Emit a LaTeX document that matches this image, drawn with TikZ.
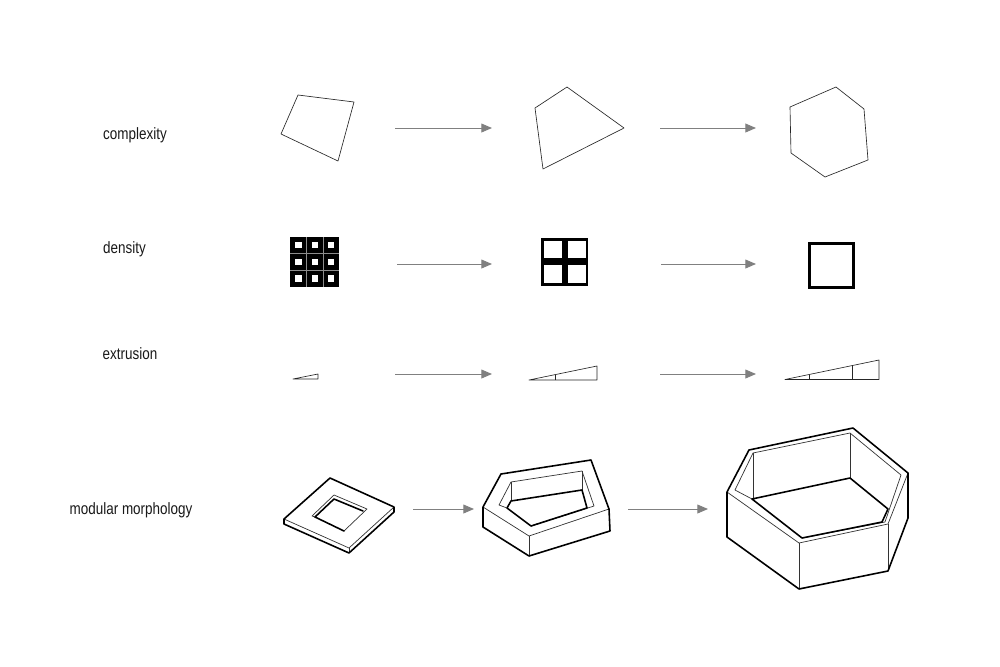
\documentclass[tikz,border=0pt]{standalone}
\usepackage{fontspec}
\setmainfont[FakeStretch=0.82]{Liberation Sans}
\usepackage{xcolor}
\usepackage{tikz}
\usetikzlibrary{arrows.meta}

\definecolor{arrowgrey}{HTML}{808080}

\begin{document}
\begin{tikzpicture}[
    x=0.03cm, y=-0.03cm,
    rowlabel/.style={font=\fontsize{14}{16}\selectfont, text=black!90, inner sep=0pt},
    flow/.style={draw=arrowgrey, line width=0.8pt, -{Triangle[length=9pt, width=7.5pt, fill=arrowgrey]}},
    plan/.style={draw=black!85, line width=0.55pt, line join=round},
    thin3d/.style={draw=black!80, line width=0.6pt, line join=round},
    thick3d/.style={draw=black, line width=1.35pt, line join=round, line cap=round}
]

\useasboundingbox[fill=white] (0,0) rectangle (1000,667);

\node[rowlabel] (complexity) at (135,135.5) {complexity};
\node[rowlabel] (density) at (124.5,249.5) {density};
\node[rowlabel] (extrusion) at (130,353.5) {extrusion};
\node[rowlabel] (morphology) at (131,510.5) {modular morphology};

% complexity
\draw[plan] (298,95) -- (354,102) -- (338,161) -- (281,134) -- cycle;
\draw[plan] (567,87) -- (624,128) -- (543,169) -- (535,108) -- cycle;
\draw[plan] (836,87) -- (864,109) -- (868,160) -- (825,177) -- (791,153) -- (790,107) -- cycle;

% density
\fill[black] (290,237) rectangle (339,287);
\foreach \i in {0,1,2}
  \foreach \j in {0,1,2}
    \fill[white] (295.2+16.4*\i,241.9+16.6*\j) rectangle ++(6.4,6.4);
\foreach \i in {1,2} {
  \draw[black!45, line width=0.4pt] (290+16.4*\i,237) -- (290+16.4*\i,287);
  \draw[black!45, line width=0.4pt] (290,237+16.6*\i) -- (339,237+16.6*\i);
}
\fill[black] (541,238) rectangle (588,286);
\fill[white] (543.5,241) rectangle (561.5,258);
\fill[white] (567.5,241) rectangle (585.5,258);
\fill[white] (543.5,265) rectangle (561.5,283);
\fill[white] (567.5,265) rectangle (585.5,283);
\draw[black, line width=2.2pt] (809.5,243.5) rectangle (853.5,287.5);

% extrusion
\draw[plan] (293,379) -- (318,374) -- (318,379) -- cycle;
\draw[plan] (529,380) -- (597,366) -- (597,380) -- cycle;
\draw[plan] (555,380) -- (555,375);
\draw[plan] (785,379.5) -- (879,360) -- (879,379.5) -- cycle;
\draw[plan] (809,379.5) -- (809,374.5);
\draw[plan] (852,379.5) -- (852,366);

% slab
\draw[thin3d] (284,519) -- (349,548) -- (394,507);
\draw[thin3d] (349,548) -- (349,553);
\draw[thin3d] (315,517) -- (312,516) -- (334,495) -- (367,509) -- (344,531);
\draw[thick3d] (284,519) -- (330,478) -- (394,507) -- (394,512) -- (349,553) -- (284,524) -- cycle;
\draw[thick3d] (363,511) -- (334,499) -- (315,517) -- (344,531);

% pentagon module
\draw[thin3d] (483,507) -- (529,536) -- (609,509);
\draw[thin3d] (529,536) -- (529,556);
\draw[thin3d] (507,508) -- (499,505) -- (511,482) -- (582,471) -- (594,506) -- (531,526);
\draw[thin3d] (511,482) -- (511,501);
\draw[thin3d] (582,471) -- (582,490);
\draw[thick3d] (483,507) -- (501,474) -- (591,460) -- (609,509) -- (610,531) -- (529,556) -- (483,527) -- cycle;
\draw[thick3d] (531,526) -- (507,508) -- (511,501) -- (582,490) -- (587,508) -- cycle;

% hexagon module
\draw[thin3d] (727,492) -- (799,543) -- (888,524) -- (908,473);
\draw[thin3d] (799,543) -- (799,589);
\draw[thin3d] (888,524) -- (888,571);
\draw[thin3d] (752,499) -- (735,490) -- (753,453) -- (850,433) -- (901,475) -- (885,522) -- (802,538);
\draw[thin3d] (753,453) -- (753,499);
\draw[thin3d] (850,433) -- (850,478);
\draw[thick3d] (727,492) -- (749,450) -- (853,428) -- (908,473) -- (908,518) -- (888,571) -- (799,589) -- (727,537) -- cycle;
\draw[thick3d] (802,538) -- (752,499) -- (850,478) -- (888,509) -- (882,522) -- cycle;

% arrows
\coordinate (cplxa) at (395,128);
\coordinate (cplxb) at (492,128);
\coordinate (cplxc) at (660,128);
\coordinate (cplxd) at (756,128);
\coordinate (densa) at (397,264);
\coordinate (densb) at (492,264);
\coordinate (densc) at (661,264);
\coordinate (densd) at (756,264);
\coordinate (extra) at (395,374);
\coordinate (extrb) at (492,374);
\coordinate (extrc) at (660,374);
\coordinate (extrd) at (756,374);
\coordinate (morpa) at (413,509);
\coordinate (morpb) at (474,509);
\coordinate (morpc) at (628,509);
\coordinate (morpd) at (708,509);
\draw[flow] (cplxa) -- (cplxb);
\draw[flow] (cplxc) -- (cplxd);
\draw[flow] (densa) -- (densb);
\draw[flow] (densc) -- (densd);
\draw[flow] (extra) -- (extrb);
\draw[flow] (extrc) -- (extrd);
\draw[flow] (morpa) -- (morpb);
\draw[flow] (morpc) -- (morpd);

\end{tikzpicture}
\end{document}
